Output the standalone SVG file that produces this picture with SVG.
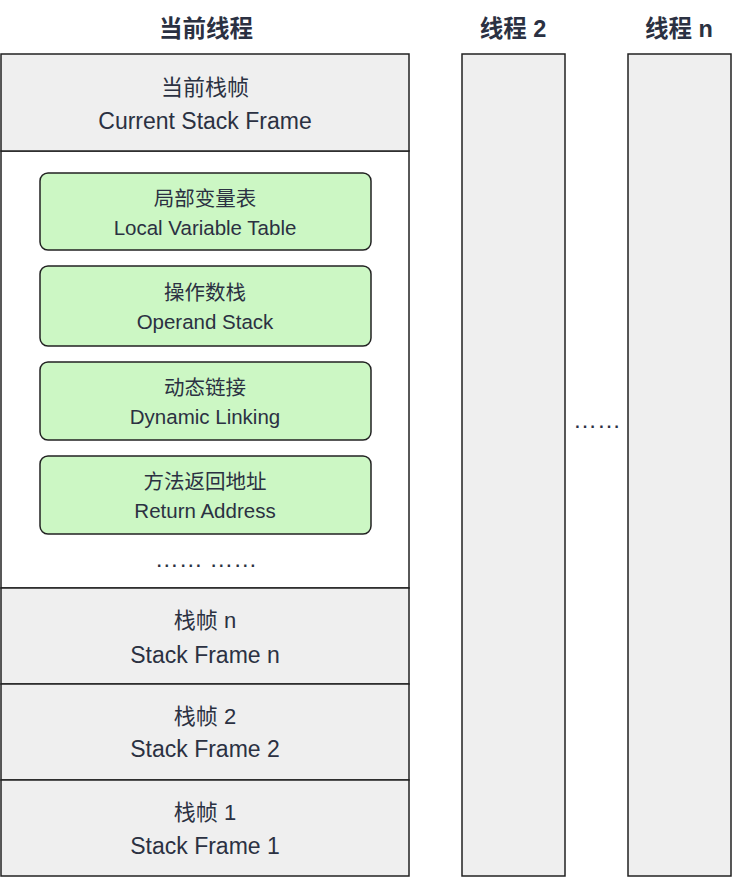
<svg xmlns="http://www.w3.org/2000/svg" width="742" height="890" viewBox="0 0 742 890">
<style>
text{font-family:"Liberation Sans","Noto Sans CJK SC",sans-serif;fill:#2b3142;text-anchor:middle}
.t{font-size:23.5px;font-weight:bold}
.lc{font-size:22px}
.l{font-size:23px}
.sc{font-size:20.5px}
.s{font-size:20.5px}
.d{font-size:24px}
.g{fill:#efefef;stroke:#222;stroke-width:1.5}
.w{fill:#fff;stroke:#222;stroke-width:1.5}
.n{fill:#ccf7c4;stroke:#222;stroke-width:1.5}
</style>
<rect width="742" height="890" fill="#fff"/>
<g id="titles">
<text class="t" x="206" y="37">当前线程</text>
<text class="t" x="513" y="37">线程 2</text>
<text class="t" x="679" y="37">线程 n</text>
</g>
<g id="current-frame-body"><rect class="w" x="1" y="151" width="408" height="437"/></g>
<g id="current-frame">
<rect class="g" x="1" y="54" width="408" height="97"/>
<text class="lc" x="205" y="95">当前栈帧</text>
<text class="l" x="205" y="129">Current Stack Frame</text>
</g>
<g id="local-var">
<rect class="n" x="40" y="173" width="331" height="77" rx="8"/>
<text class="sc" x="205" y="206">局部变量表</text>
<text class="s" x="205" y="235">Local Variable Table</text>
</g>
<g id="operand">
<rect class="n" x="40" y="266" width="331" height="80" rx="8"/>
<text class="sc" x="205" y="300">操作数栈</text>
<text class="s" x="205" y="329">Operand Stack</text>
</g>
<g id="dynamic">
<rect class="n" x="40" y="362" width="331" height="78" rx="8"/>
<text class="sc" x="205" y="395">动态链接</text>
<text class="s" x="205" y="424">Dynamic Linking</text>
</g>
<g id="return">
<rect class="n" x="40" y="456" width="331" height="78" rx="8"/>
<text class="sc" x="205" y="489">方法返回地址</text>
<text class="s" x="205" y="518">Return Address</text>
</g>
<g id="dots1"><text class="d" x="206" y="567">…… ……</text></g>
<g id="frame-n">
<rect class="g" x="1" y="588" width="408" height="96"/>
<text class="lc" x="205" y="628">栈帧 n</text>
<text class="l" x="205" y="663">Stack Frame n</text>
</g>
<g id="frame-2">
<rect class="g" x="1" y="684" width="408" height="96"/>
<text class="lc" x="205" y="724">栈帧 2</text>
<text class="l" x="205" y="757">Stack Frame 2</text>
</g>
<g id="frame-1">
<rect class="g" x="1" y="780" width="408" height="96"/>
<text class="lc" x="205" y="820">栈帧 1</text>
<text class="l" x="205" y="854">Stack Frame 1</text>
</g>
<g id="thread-2"><rect class="g" x="462" y="54" width="103" height="822"/></g>
<g id="thread-n"><rect class="g" x="628" y="54" width="103" height="822"/></g>
<g id="dots2"><text class="d" x="597" y="428">……</text></g>
<g id="connectors"></g>
</svg>
